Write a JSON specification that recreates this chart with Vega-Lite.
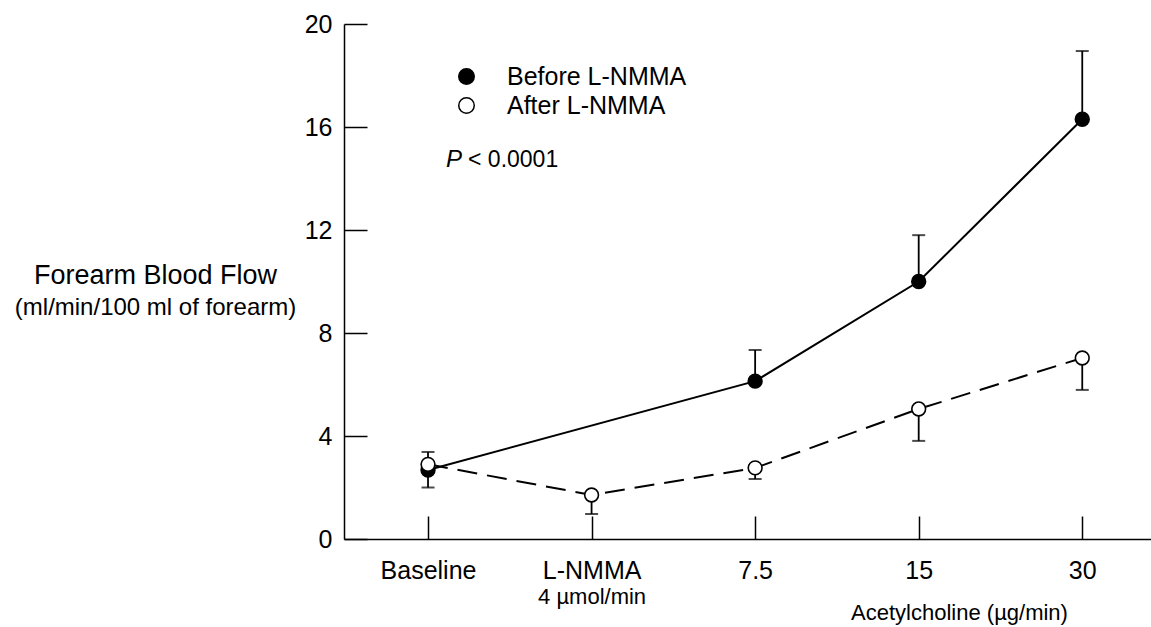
{
  "$schema": "https://vega.github.io/schema/vega-lite/v6.json",
  "width": 807,
  "height": 515,
  "autosize": {"type": "none"},
  "padding": {"left": 344, "top": 24, "right": 0, "bottom": 88},
  "background": "white",
  "config": {
    "view": {"stroke": null},
    "font": "Liberation Sans",
    "axis": {"grid": false, "domainColor": "black", "tickColor": "black", "labelColor": "black", "titleColor": "black", "domainWidth": 1.5, "tickWidth": 1.5, "titleFontWeight": "normal"}
  },
  "datasets": {
    "flow": [
      {"dose": "Baseline", "group": "Before L-NMMA", "flow": 2.68, "err": 2.0},
      {"dose": "7.5", "group": "Before L-NMMA", "flow": 6.13, "err": 7.34},
      {"dose": "15", "group": "Before L-NMMA", "flow": 10.0, "err": 11.8},
      {"dose": "30", "group": "Before L-NMMA", "flow": 16.3, "err": 18.95},
      {"dose": "Baseline", "group": "After L-NMMA", "flow": 2.9, "err": 3.38},
      {"dose": "L-NMMA", "group": "After L-NMMA", "flow": 1.71, "err": 0.97},
      {"dose": "7.5", "group": "After L-NMMA", "flow": 2.76, "err": 2.33},
      {"dose": "15", "group": "After L-NMMA", "flow": 5.05, "err": 3.81},
      {"dose": "30", "group": "After L-NMMA", "flow": 7.03, "err": 5.79}
    ],
    "note": [
      {"dose": "Baseline", "flow": 14.7, "p": "P", "rest": "< 0.0001"}
    ]
  },
  "data": {"name": "flow"},
  "resolve": {"axis": {"x": "independent", "y": "independent"}},
  "layer": [
    {
      "mark": {"type": "rule", "color": "black", "strokeWidth": 1.8},
      "encoding": {
        "x": {"field": "dose", "type": "ordinal", "scale": {"type": "point", "domain": ["Baseline", "L-NMMA", "7.5", "15", "30"], "padding": 0.467, "align": 0.55},
          "axis": {"orient": "bottom", "title": null, "labelAngle": 0, "labelFontSize": 25, "tickSize": -23, "labelPadding": 42, "labelBaseline": "top"}},
        "y": {"field": "flow", "type": "quantitative", "scale": {"domain": [0, 20], "nice": false},
          "axis": {"orient": "left", "values": [0, 4, 8, 12, 16, 20], "labelFontSize": 25, "tickSize": -23, "labelPadding": 35,
            "title": "Forearm Blood Flow", "titleAngle": 0, "titleFontSize": 27, "titleX": -189, "titleY": 259, "titleAlign": "center", "titleBaseline": "alphabetic"}},
        "y2": {"field": "err"}
      }
    },
    {
      "mark": {"type": "tick", "color": "black", "size": 13, "thickness": 2, "orient": "horizontal"},
      "encoding": {
        "x": {"field": "dose", "type": "ordinal", "axis": null},
        "y": {"field": "err", "type": "quantitative", "axis": null}
      }
    },
    {
      "transform": [{"filter": "datum.group == 'Before L-NMMA'"}],
      "mark": {"type": "line", "color": "black", "strokeWidth": 2},
      "encoding": {
        "x": {"field": "dose", "type": "ordinal", "axis": null},
        "y": {"field": "flow", "type": "quantitative", "axis": null}
      }
    },
    {
      "transform": [{"filter": "datum.group == 'After L-NMMA'"}],
      "mark": {"type": "line", "color": "black", "strokeWidth": 2, "strokeDash": [20, 10]},
      "encoding": {
        "x": {"field": "dose", "type": "ordinal", "axis": null},
        "y": {"field": "flow", "type": "quantitative", "axis": null}
      }
    },
    {
      "mark": {"type": "point", "shape": "circle", "filled": true, "stroke": "black", "strokeWidth": 1.6, "size": 190, "opacity": 1, "fillOpacity": 1},
      "encoding": {
        "x": {"field": "dose", "type": "ordinal",
          "axis": {"orient": "bottom", "domain": false, "ticks": false, "tickSize": 0, "labelPadding": 47, "labelFontSize": 22, "labelAngle": 0, "labelBaseline": "top",
            "labelExpr": "datum.value == 'L-NMMA' ? '4 µmol/min' : ''",
            "title": "Acetylcholine (µg/min)", "titleFontSize": 22, "titleX": 615, "titleY": 80, "titleAlign": "center", "titleBaseline": "alphabetic"}},
        "y": {"field": "flow", "type": "quantitative",
          "axis": {"orient": "left", "domain": false, "ticks": false, "labels": false, "tickSize": 0,
            "title": "(ml/min/100 ml of forearm)", "titleAngle": 0, "titleFontSize": 24, "titleX": -189, "titleY": 290, "titleAlign": "center", "titleBaseline": "alphabetic"}},
        "fill": {"field": "group", "type": "nominal", "scale": {"domain": ["Before L-NMMA", "After L-NMMA"], "range": ["black", "white"]},
          "legend": {"orient": "none", "legendX": 110, "legendY": 40, "title": null, "padding": 0, "labelFontSize": 25, "labelColor": "black", "labelLimit": 400,
            "labelOffset": 28, "symbolType": "circle", "symbolSize": 240, "symbolStrokeColor": "black", "symbolStrokeWidth": 1.5, "symbolOpacity": 1, "rowPadding": 3}}
      }
    },
    {
      "data": {"name": "note"},
      "mark": {"type": "text", "fontStyle": "italic", "fontSize": 24, "align": "left", "baseline": "middle", "dx": 18, "color": "black"},
      "encoding": {
        "x": {"field": "dose", "type": "ordinal", "axis": null},
        "y": {"field": "flow", "type": "quantitative", "axis": null},
        "text": {"field": "p"}
      }
    },
    {
      "data": {"name": "note"},
      "mark": {"type": "text", "fontSize": 23, "align": "left", "baseline": "middle", "dx": 40, "color": "black"},
      "encoding": {
        "x": {"field": "dose", "type": "ordinal", "axis": null},
        "y": {"field": "flow", "type": "quantitative", "axis": null},
        "text": {"field": "rest"}
      }
    }
  ]
}
